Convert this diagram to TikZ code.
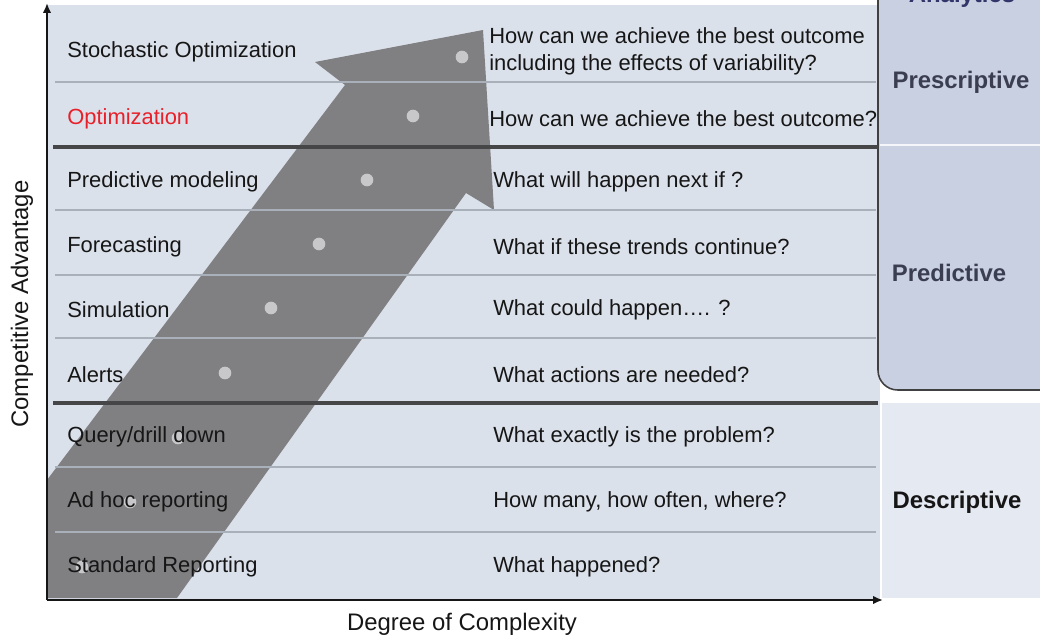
\documentclass[tikz,border=0pt]{standalone}
\usepackage{fontspec}
\setmainfont{Liberation Sans}
\usetikzlibrary{arrows.meta}
\definecolor{panelbg}{RGB}{219,225,235}
\definecolor{descbg}{RGB}{229,233,241}
\definecolor{analyticsbg}{RGB}{201,208,226}
\definecolor{arrowgray}{RGB}{128,128,130}
\definecolor{dotgray}{RGB}{200,200,202}
\definecolor{rulegray}{RGB}{170,176,186}
\definecolor{darkrule}{RGB}{70,70,72}
\definecolor{labelink}{RGB}{22,22,22}
\definecolor{optred}{RGB}{232,32,42}
\definecolor{slateink}{RGB}{58,62,80}

\begin{document}
\begin{tikzpicture}[x=0.025cm,y=-0.025cm,
  rowlbl/.style={anchor=west,inner sep=0pt,text=labelink,font=\fontsize{15.6}{18}\selectfont},
  question/.style={rowlbl,align=left,font=\fontsize{15.6}{19.2}\selectfont},
  tierlbl/.style={inner sep=0pt,font=\fontsize{17}{20}\selectfont\bfseries},
  axislbl/.style={inner sep=0pt,text=labelink,font=\fontsize{17}{20}\selectfont},
  thinrule/.style={rulegray,line width=1.1pt},
  thickrule/.style={darkrule,line width=2.3pt},
  pathdot/.style={circle,fill=dotgray,inner sep=0pt,minimum size=9pt},
  axisline/.style={-{Latex[length=7pt,width=6pt]},line width=1.9pt,labelink}
]
\useasboundingbox (0,0) rectangle (1040,639);
\clip (0,0) rectangle (1040,639);

% panels
\fill[panelbg] (47,5) rectangle (880,600);
\fill[descbg] (882,403) rectangle (1040,598);
\draw[black!75,line width=1.1pt,fill=analyticsbg,rounded corners=14pt]
  (878,-40) rectangle (1080,390);
\draw[white!80!analyticsbg,line width=1.4pt] (880,145) -- (1040,145);

% growth arrow
\fill[arrowgray] (47,598) -- (47,480) -- (345,85) -- (315,62) -- (483,30)
  -- (494,210) -- (466,193) -- (177,598) -- cycle;

% row rules
\draw[thinrule] (55,82) -- (876,82);
\draw[thickrule] (53,147) -- (878,147);
\draw[thinrule] (55,210) -- (876,210);
\draw[thinrule] (55,275) -- (876,275);
\draw[thinrule] (55,338) -- (876,338);
\draw[thickrule] (53,403) -- (878,403);
\draw[thinrule] (55,467) -- (876,467);
\draw[thinrule] (55,532) -- (876,532);

% steps along the arrow
\node[pathdot] (d1) at (462,57) {};
\node[pathdot] (d2) at (413,116) {};
\node[pathdot] (d3) at (367,180) {};
\node[pathdot] (d4) at (319,244) {};
\node[pathdot] (d5) at (271,308) {};
\node[pathdot] (d6) at (225,373) {};
\node[pathdot] (d7) at (178,438) {};
\node[pathdot] (d8) at (130,502) {};
\node[pathdot] (d9) at (82,567) {};

% axes
\coordinate (origin) at (47,600);
\coordinate (ytip) at (47,3);
\coordinate (xtip) at (883,600);
\draw[axisline] (origin) -- (ytip);
\draw[axisline] (origin) -- (xtip);

% techniques
\node[rowlbl] (stoch) at (67,52) {Stochastic Optimization};
\node[rowlbl,text=optred] (optim) at (67,119) {Optimization};
\node[rowlbl] (predmod) at (67,182) {Predictive modeling};
\node[rowlbl] (forecast) at (67,247) {Forecasting};
\node[rowlbl] (simul) at (67,310) {Simulation};
\node[rowlbl] (alerts) at (67,375) {Alerts};
\node[rowlbl] (query) at (67,437) {Query/drill down};
\node[rowlbl] (adhoc) at (67,502) {Ad hoc reporting};
\node[rowlbl] (stdrep) at (67,567) {Standard Reporting};

% questions
\node[question] (q-stoch) at (489,51) {How can we achieve the best outcome\\including the effects of variability?};
\node[question] (q-optim) at (489,119) {How can we achieve the best outcome?};
\node[question] (q-predmod) at (493,182) {What will happen next if ?};
\node[question] (q-forecast) at (493,247) {What if these trends continue?};
\node[question] (q-simul) at (493,310) {What could happen…. ?};
\node[question] (q-alerts) at (493,375) {What actions are needed?};
\node[question] (q-query) at (493,437) {What exactly is the problem?};
\node[question] (q-adhoc) at (493,502) {How many, how often, where?};
\node[question] (q-stdrep) at (493,567) {What happened?};

% tiers
\node[tierlbl,text=slateink!85!blue] (analytics) at (962,-4) {Analytics};
\node[tierlbl,text=slateink] (prescr) at (961,82) {Prescriptive};
\node[tierlbl,text=slateink] (predict) at (949,273) {Predictive};
\node[tierlbl,text=labelink] (descr) at (957,502) {Descriptive};

\node[axislbl,rotate=90] (yname) at (22,304) {Competitive Advantage};
\node[axislbl] (xname) at (462,624) {Degree of Complexity};
\end{tikzpicture}
\end{document}
